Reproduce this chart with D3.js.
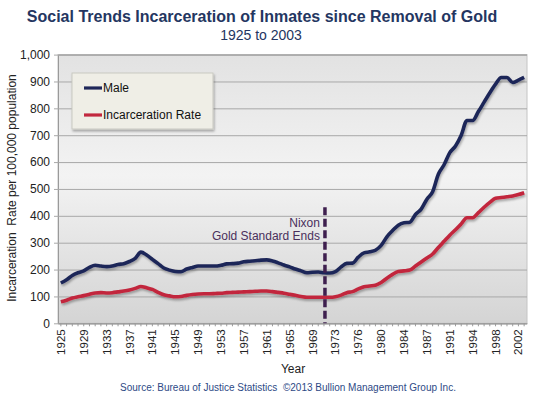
<!DOCTYPE html>
<html>
<head>
<meta charset="utf-8">
<script src="https://cdn.jsdelivr.net/npm/d3@7"></script>
<style>
  body { margin: 0; background: #fff; }
  svg { display: block; font-family: "Liberation Sans", Arial, sans-serif; }
</style>
</head>
<body>
<svg id="chart" width="550" height="396"></svg>
<script>
// category labels (source data has a few repeated years)
const years = [
  1925,1926,1927,1928,1929,1930,1931,1932,1933,1934,1935,1936,1937,1938,1939,1940,
  1941,1942,1943,1944,1945,1946,1947,1948,1949,1950,1951,1952,1953,1954,1955,1956,
  1957,1958,1959,1960,1961,1962,1963,1964,1965,1966,1967,1968,1969,1970,1971,1972,
  1973,1974,1975,1975,1976,1977,1978,1979,1980,1981,1982,1983,1984,1984,1985,1986,
  1987,1988,1989,1990,1991,1992,1993,1994,1994,1995,1996,1997,1998,1999,2000,2001,
  2002,2003
];
const male = [
  150,162,178,188,195,208,216,213,211,213,219,222,230,242,265,254,
  238,222,206,198,193,192,202,208,213,213,213,213,216,221,222,224,
  229,231,233,235,236,232,225,217,210,202,195,188,190,191,188,187,
  192,210,223,224,246,262,266,272,290,322,345,365,374,376,405,425,
  462,490,555,590,635,660,700,755,755,788,823,858,890,915,915,896,
  905,915
];
const rate = [
  80,86,94,99,103,108,113,114,113,114,117,120,124,130,137,132,
  126,115,106,102,99,100,104,107,109,110,110,111,112,114,115,116,
  117,118,119,120,120,118,115,112,108,104,100,97,97,97,97,97,
  99,105,114,118,128,136,139,142,152,168,182,193,195,198,213,228,
  243,258,282,305,328,348,370,393,393,412,432,450,465,468,471,474,
  479,486
];
const yTicks = [0,100,200,300,400,500,600,700,800,900,1000];
const labelEvery = 4;
const nixonIndex = 46;   // 1971
const nixonTop = 432;

const svg = d3.select("#chart");
const plotL = 58, plotR = 527, plotT = 54.6, plotB = 323.3;

const x = d3.scaleBand().domain(d3.range(years.length)).range([plotL, plotR]);
const y = d3.scaleLinear().domain([0, 1000]).range([plotB, plotT]);
const cx = i => x(i) + x.bandwidth() / 2;

const defs = svg.append("defs");
const grad = defs.append("linearGradient").attr("id", "bg").attr("x1", 0).attr("y1", 0).attr("x2", 0).attr("y2", 1);
grad.append("stop").attr("offset", "0%").attr("stop-color", "#e2e2e2");
grad.append("stop").attr("offset", "45%").attr("stop-color", "#f3f3f3");
grad.append("stop").attr("offset", "100%").attr("stop-color", "#d4d4d4");
const shadow = defs.append("filter").attr("id", "shadow").attr("x", "-10%").attr("y", "-10%").attr("width", "130%").attr("height", "140%");
shadow.append("feDropShadow").attr("dx", 1).attr("dy", 2).attr("stdDeviation", 1.2).attr("flood-color", "#000").attr("flood-opacity", 0.3);

// plot background
svg.append("rect")
  .attr("x", plotL).attr("y", plotT)
  .attr("width", plotR - plotL).attr("height", plotB - plotT)
  .attr("fill", "url(#bg)")
  .attr("stroke", "#c4c4c4");

// gridlines + y axis
svg.append("g")
  .attr("transform", `translate(${plotL},0)`)
  .call(d3.axisLeft(y).tickValues(yTicks).tickSize(-(plotR - plotL)).tickPadding(6)
    .tickFormat(d3.format(",")))
  .call(g => g.select(".domain").attr("stroke", "#9a9a9a"))
  .call(g => g.selectAll(".tick line").attr("stroke", "#a8a8a8").attr("x1", -4))
  .call(g => g.selectAll(".tick text").attr("x", -8).attr("font-size", 12)
    .attr("fill", "#222").attr("font-family", "Liberation Sans, Arial, sans-serif"));

// x axis
svg.append("g")
  .attr("transform", `translate(0,${plotB})`)
  .call(d3.axisBottom(x).tickSize(3).tickSizeOuter(0)
    .tickFormat(i => i % labelEvery === 0 ? years[i] : ""))
  .call(g => g.select(".domain").attr("stroke", "#9a9a9a"))
  .call(g => g.selectAll(".tick line").attr("stroke", "#9a9a9a"))
  .call(g => g.selectAll(".tick text")
    .attr("transform", "rotate(-90)")
    .attr("x", -6).attr("y", 0).attr("dy", "0.35em")
    .attr("text-anchor", "end")
    .attr("font-size", 11.5).attr("fill", "#222")
    .attr("font-family", "Liberation Sans, Arial, sans-serif"));

// series
const line = d3.line().x((d, i) => cx(i)).y(d => y(d)).curve(d3.curveMonotoneX);
const series = [
  { name: "Male", values: male, color: "#1f2759" },
  { name: "Incarceration Rate", values: rate, color: "#c2283e" }
];
svg.selectAll(".series")
  .data(series)
  .enter()
  .append("path")
  .attr("class", "series")
  .attr("d", d => line(d.values))
  .attr("fill", "none")
  .attr("stroke", d => d.color)
  .attr("stroke-width", 3.6)
  .attr("stroke-linejoin", "round")
  .attr("filter", "url(#shadow)");

// Nixon annotation
svg.append("line")
  .attr("x1", cx(nixonIndex) + 1).attr("x2", cx(nixonIndex) + 1)
  .attr("y1", y(nixonTop)).attr("y2", y(0))
  .attr("stroke", "#3e1f4e").attr("stroke-width", 3.5)
  .attr("stroke-dasharray", "8,3.5");
svg.append("text")
  .attr("x", cx(nixonIndex) - 4).attr("y", 226.5)
  .attr("text-anchor", "end").attr("font-size", 12).attr("fill", "#4a2f5c")
  .text("Nixon");
svg.append("text")
  .attr("x", cx(nixonIndex) - 4).attr("y", 239.5)
  .attr("text-anchor", "end").attr("font-size", 12).attr("fill", "#4a2f5c")
  .text("Gold Standard Ends");

// legend
const legend = svg.append("g");
legend.append("rect")
  .attr("x", 72).attr("y", 73).attr("width", 141).attr("height", 56)
  .attr("fill", "#efeee6").attr("stroke", "#c9c9c2")
  .attr("filter", "url(#shadow)");
series.forEach((s, k) => {
  const ly = 88 + k * 27;
  legend.append("line")
    .attr("x1", 84).attr("x2", 102).attr("y1", ly).attr("y2", ly)
    .attr("stroke", s.color).attr("stroke-width", 3.2);
  legend.append("text")
    .attr("x", 103).attr("y", ly + 4.2)
    .attr("font-size", 12).attr("fill", "#111")
    .text(s.name);
});

// titles
svg.append("text")
  .attr("x", 262).attr("y", 21.5)
  .attr("text-anchor", "middle").attr("font-size", 16).attr("font-weight", "bold")
  .attr("fill", "#243661")
  .text("Social Trends Incarceration of Inmates since Removal of Gold");
svg.append("text")
  .attr("x", 261).attr("y", 39.5)
  .attr("text-anchor", "middle").attr("font-size", 14)
  .attr("fill", "#243661")
  .text("1925 to 2003");
svg.append("text")
  .attr("transform", `translate(15.5,188) rotate(-90)`)
  .attr("text-anchor", "middle").attr("font-size", 12).attr("fill", "#222")
  .attr("xml:space", "preserve")
  .text("Incarceration  Rate per 100,000 population");
svg.append("text")
  .attr("x", 293).attr("y", 372.5)
  .attr("text-anchor", "middle").attr("font-size", 12).attr("fill", "#222")
  .text("Year");
svg.append("text")
  .attr("x", 288).attr("y", 391)
  .attr("text-anchor", "middle").attr("font-size", 10).attr("fill", "#2e4a86")
  .attr("xml:space", "preserve")
  .text("Source: Bureau of Justice Statistics  \u00a92013 Bullion Management Group Inc.");
</script>
</body>
</html>
